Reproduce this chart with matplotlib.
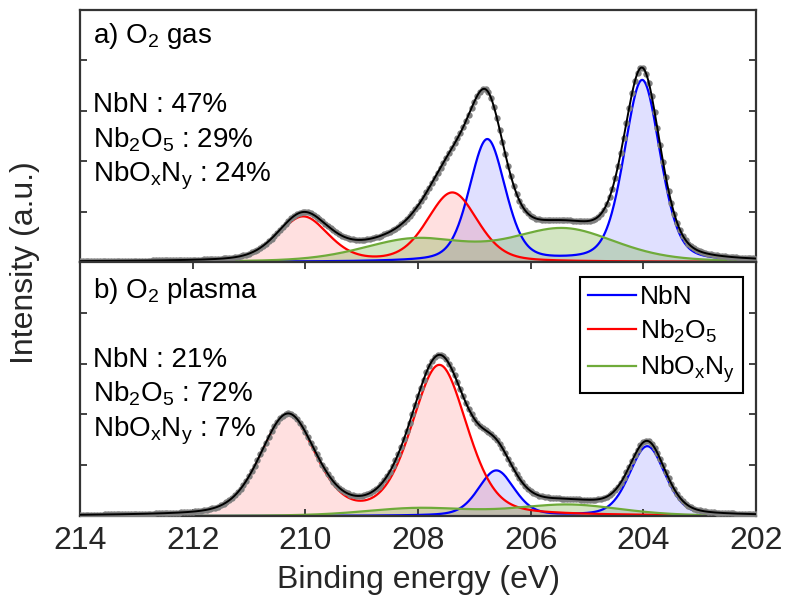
import numpy as np
import matplotlib
matplotlib.use('Agg')
import matplotlib.pyplot as plt

plt.rcParams['font.family'] = ['Liberation Sans', 'DejaVu Sans']
plt.rcParams['mathtext.fontset'] = 'custom'
plt.rcParams['mathtext.rm'] = 'Liberation Sans'
plt.rcParams['mathtext.it'] = 'Liberation Sans'
plt.rcParams['mathtext.default'] = 'regular'

# Компоненты разложения спектра Nb 3d
components = ['NbN', 'Nb$_2$O$_5$', 'NbO$_x$N$_y$']
colors = ['#0000ff', '#ff0000', '#6fab3a']
fill_alpha = [0.12, 0.12, 0.30]

# a) O2 gas: положения (эВ), высоты и ширины дублета 3d5/2 / 3d3/2
gas_pos_52 = [204.02, 207.39, 205.42]
gas_pos_32 = [206.77, 210.04, 208.05]
gas_h_52 = [3.60, 1.37, 0.65]
gas_h_32 = [2.42, 0.89, 0.44]
gas_fwhm = [0.75, 1.05, 2.2]
gas_share = ['47%', '29%', '24%']

# b) O2 plasma
plasma_pos_52 = [203.93, 207.62, 205.33]
plasma_pos_32 = [206.61, 210.31, 208.00]
plasma_h_52 = [1.37, 2.95, 0.22]
plasma_h_32 = [0.89, 1.96, 0.15]
plasma_fwhm = [0.75, 1.15, 2.2]
plasma_share = ['21%', '72%', '7%']

lorentz_frac = 0.3
x_ticks = [214, 212, 210, 208, 206, 204, 202]


def pseudo_voigt(e, center, height, fwhm):
    g = np.exp(-4 * np.log(2) * ((e - center) / fwhm) ** 2)
    lor = 1 / (1 + (2 * (e - center) / fwhm) ** 2)
    return height * ((1 - lorentz_frac) * g + lorentz_frac * lor)


def draw_panel(ax, pos52, pos32, h52, h32, fwhm, title, share):
    e = np.linspace(202, 214, 1201)
    e_dots = np.arange(202.0, 214.001, 0.05)
    total = np.zeros_like(e)
    total_dots = np.zeros_like(e_dots)
    curves = []
    for i in range(len(components)):
        y = (pseudo_voigt(e, pos52[i], h52[i], fwhm[i])
             + pseudo_voigt(e, pos32[i], h32[i], fwhm[i]))
        total += y
        total_dots += (pseudo_voigt(e_dots, pos52[i], h52[i], fwhm[i])
                       + pseudo_voigt(e_dots, pos32[i], h32[i], fwhm[i]))
        curves.append(y)
        ax.fill_between(e, 0, y, color=colors[i], alpha=fill_alpha[i],
                        linewidth=0)
    for i, y in enumerate(curves):
        ax.plot(e, y, color=colors[i], lw=1.6, label=components[i])
    ax.plot(e_dots, total_dots, 'o', color='#808080', ms=4.6, mew=0,
            zorder=3)
    ax.plot(e, total, color='black', lw=1.4, zorder=4)

    ax.set_xlim(214, 202)
    ax.set_ylim(0, 5)
    ax.set_xticks(x_ticks)
    ax.set_yticks([1, 2, 3, 4])
    ax.tick_params(direction='in', length=5, width=1.3, color='#333333',
                   labelleft=False, left=True, right=True,
                   labelsize=23, labelcolor='#262626', pad=7)
    for sp in ax.spines.values():
        sp.set_linewidth(1.6)
        sp.set_color('#333333')

    ax.text(0.019, title[1], title[0], transform=ax.transAxes,
            fontsize=20, va='baseline')
    for i, name in enumerate(components):
        ax.text(0.019, title[2][i], f'{name} : {share[i]}',
                transform=ax.transAxes, fontsize=20, va='baseline')


fig = plt.figure(figsize=(7.86, 6.13), dpi=100)
ax1 = fig.add_axes([0.1018, 0.5726, 0.86, 0.4111])
ax2 = fig.add_axes([0.1018, 0.1582, 0.86, 0.4144])

draw_panel(ax1, gas_pos_52, gas_pos_32, gas_h_52, gas_h_32, gas_fwhm,
           ('a) O$_2$ gas', 0.869, [0.595, 0.456, 0.321]), gas_share)
draw_panel(ax2, plasma_pos_52, plasma_pos_32, plasma_h_52, plasma_h_32,
           plasma_fwhm,
           ('b) O$_2$ plasma', 0.858, [0.587, 0.449, 0.315]), plasma_share)

ax1.tick_params(labelbottom=False, bottom=False)
ax2.tick_params(top=True)

leg = ax2.legend(loc='upper right', bbox_to_anchor=(0.981, 0.941),
                 borderaxespad=0, fontsize=19, frameon=True, fancybox=False,
                 framealpha=1, edgecolor='black', handlelength=1.85,
                 handletextpad=0.15, labelspacing=0.33, borderpad=0.3)
leg.get_frame().set_linewidth(1.5)

fig.text(0.032, 0.571, 'Intensity (a.u.)', rotation=90, fontsize=23,
         va='center', ha='center', color='#262626')
fig.text(0.532, 0.054, 'Binding energy (eV)', fontsize=23,
         va='center', ha='center', color='#262626')

fig.savefig('out.png', dpi=100)
